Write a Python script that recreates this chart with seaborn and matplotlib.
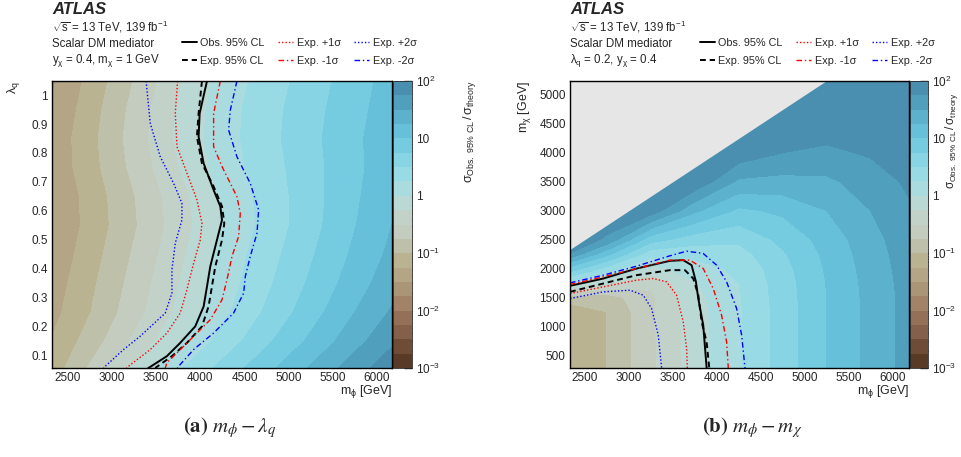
import numpy as np
import matplotlib
matplotlib.use("Agg")
import matplotlib.pyplot as plt
import seaborn as sns
from matplotlib.colors import ListedColormap
from matplotlib.ticker import FixedLocator, MultipleLocator

# ---------------- panel (a): m_phi vs lambda_q ----------------
mphi_a = np.array([2300, 2750, 3250, 3750, 4250, 4750, 5250, 5750, 6200])
lamq_a = np.array([0.05, 0.15, 0.25, 0.35, 0.45, 0.55, 0.65, 0.75, 0.85, 0.95, 1.05])
# log10(sigma_obs / sigma_theory), one row per lambda_q value
logr_a = np.array([
    [-1.15, -0.71, -0.18, 0.23, 0.59, 0.94, 1.29, 1.65, 1.95],
    [-1.25, -0.89, -0.46, -0.03, 0.34, 0.70, 1.05, 1.41, 1.72],
    [-1.35, -1.01, -0.60, -0.20, 0.18, 0.54, 0.89, 1.25, 1.55],
    [-1.40, -1.06, -0.66, -0.26, 0.11, 0.45, 0.79, 1.13, 1.42],
    [-1.45, -1.12, -0.72, -0.32, 0.07, 0.39, 0.72, 1.05, 1.33],
    [-1.50, -1.17, -0.78, -0.38, 0.01, 0.33, 0.66, 0.99, 1.27],
    [-1.50, -1.16, -0.76, -0.35, 0.04, 0.34, 0.65, 0.96, 1.22],
    [-1.45, -1.10, -0.68, -0.26, 0.11, 0.38, 0.66, 0.94, 1.18],
    [-1.45, -1.08, -0.64, -0.20, 0.14, 0.41, 0.68, 0.95, 1.18],
    [-1.50, -1.12, -0.67, -0.22, 0.13, 0.40, 0.66, 0.92, 1.15],
    [-1.55, -1.18, -0.74, -0.29, 0.09, 0.36, 0.62, 0.89, 1.12],
])

obs_a_m = [4075, 3992, 3980, 4037, 4150, 4226, 4245, 4188, 4112, 4075, 4037, 3942, 3772, 3621, 3433, 3410]
obs_a_l = [1.049, 0.937, 0.856, 0.764, 0.672, 0.615, 0.568, 0.499, 0.407, 0.338, 0.269, 0.200, 0.143, 0.097, 0.060, 0.056]
exp_a_m = [4018, 3980, 3961, 4018, 4150, 4245, 4271, 4245, 4169, 4131, 4093, 4018, 3848, 3678, 3489]
exp_a_l = [1.049, 0.937, 0.856, 0.764, 0.684, 0.615, 0.557, 0.499, 0.407, 0.338, 0.269, 0.200, 0.143, 0.097, 0.056]
p1_a_m = [3742, 3716, 3735, 3848, 3961, 4018, 3999, 3924, 3848, 3772, 3621, 3433, 3187, 3165]
p1_a_l = [1.049, 0.937, 0.822, 0.730, 0.638, 0.557, 0.499, 0.419, 0.327, 0.246, 0.177, 0.120, 0.062, 0.056]
p2_a_m = [3385, 3433, 3546, 3697, 3791, 3791, 3716, 3678, 3678, 3602, 3319, 3131, 2923, 2905]
p2_a_l = [1.049, 0.902, 0.787, 0.695, 0.626, 0.568, 0.488, 0.396, 0.315, 0.246, 0.166, 0.120, 0.062, 0.056]
m1_a_m = [4226, 4150, 4150, 4245, 4414, 4452, 4433, 4358, 4301, 4245, 4112, 3886, 3621, 3602]
m1_a_l = [1.049, 0.937, 0.822, 0.753, 0.649, 0.591, 0.511, 0.442, 0.361, 0.292, 0.223, 0.154, 0.074, 0.056]
m2_a_m = [4414, 4339, 4320, 4414, 4565, 4660, 4641, 4565, 4509, 4490, 4376, 4150, 3924, 3754, 3740]
m2_a_l = [1.049, 0.948, 0.879, 0.787, 0.695, 0.603, 0.522, 0.442, 0.373, 0.315, 0.246, 0.177, 0.120, 0.062, 0.056]

# ---------------- panel (b): m_phi vs m_chi ----------------
mphi_b = np.array([2300, 2750, 3250, 3750, 4250, 4750, 5250, 5750, 6200])
mchi_b = np.array([250, 750, 1250, 1500, 1750, 2000, 2250, 2500, 3000, 3500, 4000, 4500, 5000, 5250])
logr_b = np.array([
    [-1.20, -1.00, -0.55, -0.12, 0.22, 0.61, 1.00, 1.33, 1.60],
    [-1.20, -1.00, -0.55, -0.12, 0.22, 0.61, 1.00, 1.33, 1.60],
    [-1.15, -1.00, -0.55, -0.10, 0.22, 0.61, 1.00, 1.33, 1.60],
    [-0.90, -0.87, -0.55, -0.08, 0.23, 0.62, 1.00, 1.33, 1.60],
    [0.20, -0.23, -0.45, -0.02, 0.25, 0.63, 1.01, 1.34, 1.61],
    [0.95, 0.42, -0.10, 0.15, 0.30, 0.66, 1.03, 1.36, 1.62],
    [1.75, 1.07, 0.35, 0.32, 0.40, 0.72, 1.06, 1.38, 1.64],
    [1.99, 1.70, 0.85, 0.62, 0.55, 0.82, 1.10, 1.41, 1.66],
    [1.99, 1.99, 1.90, 1.30, 0.95, 1.05, 1.25, 1.50, 1.72],
    [1.99, 1.99, 1.99, 1.95, 1.45, 1.42, 1.45, 1.62, 1.80],
    [1.99, 1.99, 1.99, 1.99, 1.92, 1.75, 1.70, 1.78, 1.88],
    [1.99, 1.99, 1.99, 1.99, 1.99, 1.99, 1.88, 1.92, 1.95],
    [1.99, 1.99, 1.99, 1.99, 1.99, 1.99, 1.99, 1.99, 1.99],
    [1.99, 1.99, 1.99, 1.99, 1.99, 1.99, 1.99, 1.99, 1.99],
])

obs_b_x = [2330, 2708, 3087, 3466, 3618, 3713, 3762, 3789, 3845, 3883, 3885]
obs_b_y = [1700, 1826, 1999, 2132, 2144, 2057, 1769, 1480, 1019, 298, 280]
exp_b_x = [2330, 2708, 3087, 3466, 3637, 3732, 3789, 3827, 3883, 3914]
exp_b_y = [1596, 1740, 1884, 1971, 1971, 1826, 1538, 1077, 731, 280]
p1_b_x = [2330, 2708, 3087, 3277, 3428, 3542, 3618, 3656, 3664]
p1_b_y = [1567, 1682, 1798, 1826, 1769, 1538, 1077, 615, 280]
p2_b_x = [2330, 2708, 3012, 3163, 3258, 3334, 3372]
p2_b_y = [1480, 1596, 1625, 1538, 1307, 846, 280]
m1_b_x = [2330, 2708, 3087, 3466, 3694, 3845, 3959, 4054, 4111, 4130]
m1_b_y = [1722, 1855, 1999, 2144, 2144, 1999, 1653, 1192, 731, 280]
m2_b_x = [2330, 2708, 3087, 3466, 3656, 3845, 3997, 4111, 4225, 4282, 4320]
m2_b_y = [1751, 1884, 2040, 2219, 2299, 2259, 2057, 1769, 1307, 846, 280]

# colour scale: 4 bands per decade from 1e-3 to 1e2
levels = np.arange(-3, 2.001, 0.25)
band_colors = ['#583a27', '#6f4c36', '#84604a', '#957058', '#a38367', '#ab9577',
               '#b3a586', '#b9b392', '#bfc0aa', '#c3ccbe', '#c2d2c9', '#bad8d4',
               '#aadcdf', '#98dbe5', '#86d4e4', '#75cbe0', '#66c0d9', '#5cb1cc',
               '#509fbd', '#4a8fb0']
cmap = ListedColormap(band_colors)

sns.set_style("ticks")
plt.rcParams['font.family'] = ['Liberation Sans', 'DejaVu Sans']
plt.rcParams['mathtext.fontset'] = 'custom'
plt.rcParams['mathtext.rm'] = 'Liberation Sans'
plt.rcParams['mathtext.it'] = 'Liberation Sans:italic'
plt.rcParams['mathtext.bf'] = 'Liberation Sans:bold'

fig = plt.figure(figsize=(9.61, 4.57), dpi=100)
W, H = 961.0, 457.0


def box(x0, y0, x1, y1):
    return [x0 / W, 1 - y1 / H, (x1 - x0) / W, (y1 - y0) / H]


ax_a = fig.add_axes(box(52, 81, 392, 368))
cax_a = fig.add_axes(box(393, 81, 412, 368))
ax_b = fig.add_axes(box(570, 81, 909, 368))
cax_b = fig.add_axes(box(910, 81, 928, 368))

line_styles = [
    ('Obs. 95% CL', 'black', '-', 1.4),
    ('Exp. 95% CL', 'black', (0, (3, 2)), 1.4),
    ('Exp. +1\u03c3', '#ff0000', (0, (1, 1.5)), 1.0),
    ('Exp. -1\u03c3', '#ff0000', (0, (4, 2, 1, 2)), 1.0),
    ('Exp. +2\u03c3', '#0000ff', (0, (1, 1.5)), 1.0),
    ('Exp. -2\u03c3', '#0000ff', (0, (4, 2, 1, 2)), 1.0),
]


def draw_panel(ax, cax, xg, yg, zg, curves, ylab, ylab_x, xlim, ylim):
    cf = ax.contourf(xg, yg, zg, levels=levels, cmap=cmap)
    for (lab, col, ls, lw), (cx, cy) in zip(line_styles, curves):
        sns.lineplot(x=cx, y=cy, sort=False, estimator=None, ax=ax, color=col,
                     linestyle=ls, linewidth=lw, label=lab, legend=False)
    ax.set_xlim(*xlim)
    ax.set_ylim(*ylim)
    ax.xaxis.set_major_locator(MultipleLocator(500))
    ax.xaxis.set_minor_locator(MultipleLocator(100))
    ax.tick_params(which='both', direction='in', top=False, right=False, labelsize=8.5, pad=3)
    ax.tick_params(which='major', length=8, width=1)
    ax.tick_params(which='minor', length=4, width=0.8)
    for s in ax.spines.values():
        s.set_linewidth(1)
        s.set_color('black')
    ax.set_xlabel(r'm$_{\mathregular{\phi}}$ [GeV]', fontsize=9, loc='right')
    ax.xaxis.set_label_coords(1.0, -0.052)
    ax.set_ylabel(ylab, fontsize=9, loc='top')
    ax.yaxis.set_label_coords(ylab_x, 1.0)

    cb = fig.colorbar(cf, cax=cax, ticks=[-3, -2, -1, 0, 1, 2])
    cb.ax.set_yticklabels([r'10$^{\mathregular{-3}}$', r'10$^{\mathregular{-2}}$',
                           r'10$^{\mathregular{-1}}$', '1', '10', r'10$^{\mathregular{2}}$'])
    minor = [np.log10(k * 10.0 ** d) for d in range(-3, 2) for k in range(2, 10)]
    cb.ax.yaxis.set_minor_locator(FixedLocator(minor))
    cb.ax.tick_params(which='both', direction='in', labelsize=8.5, pad=3, right=True, left=False)
    cb.ax.tick_params(which='major', length=6, width=1)
    cb.ax.tick_params(which='minor', length=3, width=0.8)
    cb.outline.set_linewidth(0.6)
    return cf


curves_a = [(obs_a_m, obs_a_l), (exp_a_m, exp_a_l), (p1_a_m, p1_a_l),
            (m1_a_m, m1_a_l), (p2_a_m, p2_a_l), (m2_a_m, m2_a_l)]
curves_b = [(obs_b_x, obs_b_y), (exp_b_x, exp_b_y), (p1_b_x, p1_b_y),
            (m1_b_x, m1_b_y), (p2_b_x, p2_b_y), (m2_b_x, m2_b_y)]

draw_panel(ax_a, cax_a, mphi_a, lamq_a, logr_a, curves_a,
           r'$\mathregular{\lambda_q}$', -0.088, (2320, 6170), (0.056, 1.049))
ax_a.yaxis.set_minor_locator(MultipleLocator(0.02))
ax_a.set_yticks(np.arange(0.1, 1.01, 0.1))
ax_a.set_yticklabels(['0.1', '0.2', '0.3', '0.4', '0.5', '0.6', '0.7', '0.8', '0.9', '1'])

# kinematically forbidden region m_chi > m_phi drawn in grey
ax_b.fill_between(mphi_b, mphi_b, mchi_b.max(), color='#e6e6e6', zorder=1.5, lw=0)
draw_panel(ax_b, cax_b, mphi_b, mchi_b, logr_b, curves_b,
           r'm$_{\mathregular{\chi}}$ [GeV]', -0.109, (2330, 6185), (280, 5240))
ax_b.yaxis.set_minor_locator(MultipleLocator(100))
ax_b.set_yticks(np.arange(500, 5001, 500))

# labels and legends
for x0, sub in [(52, r'y$_{\mathregular{\chi}}$ = 0.4, m$_{\mathregular{\chi}}$ = 1 GeV'),
                (570, r'$\mathregular{\lambda_q}$ = 0.2, y$_{\mathregular{\chi}}$ = 0.4')]:
    fig.text(x0 / W, 1 - 10 / H, 'ATLAS', fontsize=12, fontweight='bold', style='italic', va='center')
    fig.text(x0 / W, 1 - 27 / H, r'$\mathregular{\sqrt{s}}$ = 13 TeV, 139 fb$^{\mathregular{-1}}$',
             fontsize=8.3, va='center')
    fig.text(x0 / W, 1 - 44 / H, 'Scalar DM mediator', fontsize=8.3, va='center')
    fig.text(x0 / W, 1 - 61 / H, sub, fontsize=8.3, va='center')

for ax, xl in [(ax_a, 182), (ax_b, 700)]:
    fig.legend(handles=ax.lines, ncol=3, loc='upper left', bbox_to_anchor=(xl / W, 1 - 38 / H),
               frameon=False, fontsize=7.8, handlelength=1.35, handletextpad=0.35,
               columnspacing=1.25, labelspacing=0.72, borderpad=0, borderaxespad=0)

cb_label = r'$\mathregular{\sigma_{Obs.\ 95\%\ CL}\,/\,\sigma_{theory}}$'
fig.text(469 / W, 1 - 80 / H, cb_label, rotation=90, fontsize=9, ha='center', va='top')
fig.text(952 / W, 1 - 92 / H, cb_label, rotation=90, fontsize=8.5, ha='center', va='top')

fig.text(230 / W, 1 - 428 / H, r'$\mathbf{(a)}\ m_{\phi} - \lambda_{q}$', fontsize=15,
         ha='center', va='center', math_fontfamily='stix')
fig.text(752 / W, 1 - 428 / H, r'$\mathbf{(b)}\ m_{\phi} - m_{\chi}$', fontsize=15,
         ha='center', va='center', math_fontfamily='stix')

fig.savefig('out.png', dpi=100)
